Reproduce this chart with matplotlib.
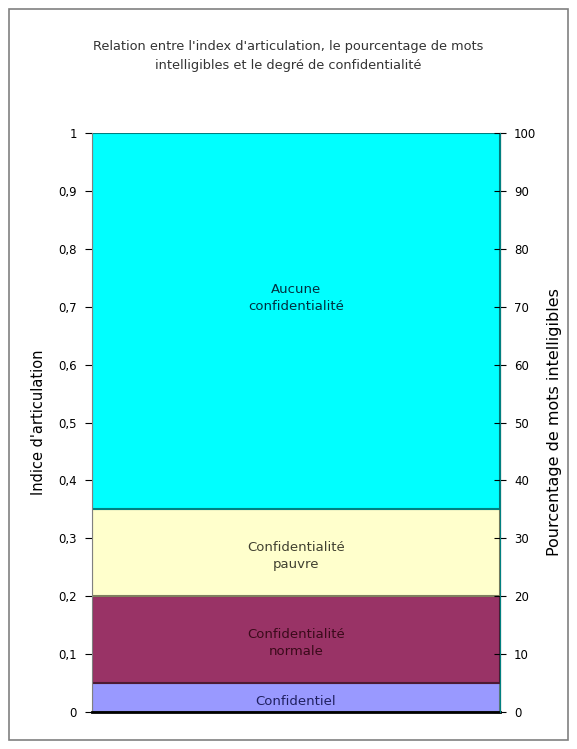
import matplotlib
matplotlib.use("Agg")
import matplotlib.pyplot as plt
from matplotlib.patches import Rectangle

# bandes de confidentialite (indice d'articulation)
categories = ["Confidentiel", "Confidentialité\nnormale", "Confidentialité\npauvre", "Aucune\nconfidentialité"]
band_low = [0.0, 0.05, 0.2, 0.35]
band_high = [0.05, 0.2, 0.35, 1.0]
label_y = [0.018, 0.12, 0.27, 0.715]
colors = ["#9999ff", "#993366", "#ffffcc", "#00ffff"]
edges = ["#5f7f7f", "#4d1a33", "#808060", "#008080"]
text_colors = ["#202060", "#3a0a1a", "#404030", "#003040"]

left_ticks = [0, 0.1, 0.2, 0.3, 0.4, 0.5, 0.6, 0.7, 0.8, 0.9, 1]
left_labels = ["0", "0,1", "0,2", "0,3", "0,4", "0,5", "0,6", "0,7", "0,8", "0,9", "1"]
right_ticks = [0, 10, 20, 30, 40, 50, 60, 70, 80, 90, 100]

fig = plt.figure(figsize=(5.77, 7.49), dpi=100)
fig.patches.append(Rectangle((0.016, 0.012), 0.969, 0.976, transform=fig.transFigure,
                             fill=False, edgecolor="#808080", linewidth=1.2))

ax = fig.add_axes([0.1594, 0.0494, 0.7072, 0.773])
for lo, hi, c, e in zip(band_low, band_high, colors, edges):
    ax.bar([0], [hi - lo], bottom=[lo], width=1.0, color=c, edgecolor=e, linewidth=1.5)
for name, y, tc in zip(categories, label_y, text_colors):
    ax.text(0, y, name, ha="center", va="center", fontsize=9.5, color=tc, linespacing=1.4)

ax.set_xlim(-0.5, 0.5)
ax.set_ylim(0, 1)
ax.set_xticks([])
ax.set_yticks(left_ticks)
ax.set_yticklabels(left_labels)
ax.tick_params(axis="y", direction="out", length=5, labelsize=8.5, pad=6)
ax.set_ylabel("Indice d'articulation", fontsize=10.5, labelpad=9)
ax.spines["top"].set_visible(False)
ax.spines["left"].set_color("#808080")
ax.spines["bottom"].set_linewidth(2)

ax2 = ax.twinx()
ax2.set_ylim(0, 100)
ax2.set_yticks(right_ticks)
ax2.tick_params(axis="y", direction="inout", length=8, labelsize=8.5, pad=6)
ax2.set_ylabel("Pourcentage de mots intelligibles", fontsize=11.5, labelpad=8)
ax2.spines["top"].set_visible(False)
ax2.spines["left"].set_visible(False)
ax2.spines["right"].set_color("#008080")
ax2.spines["bottom"].set_visible(False)

fig.text(0.5, 0.925, "Relation entre l'index d'articulation, le pourcentage de mots\n"
         "intelligibles et le degré de confidentialité",
         ha="center", va="center", fontsize=9.3, linespacing=1.6, color="#333333")

fig.savefig("out.png", dpi=100)
